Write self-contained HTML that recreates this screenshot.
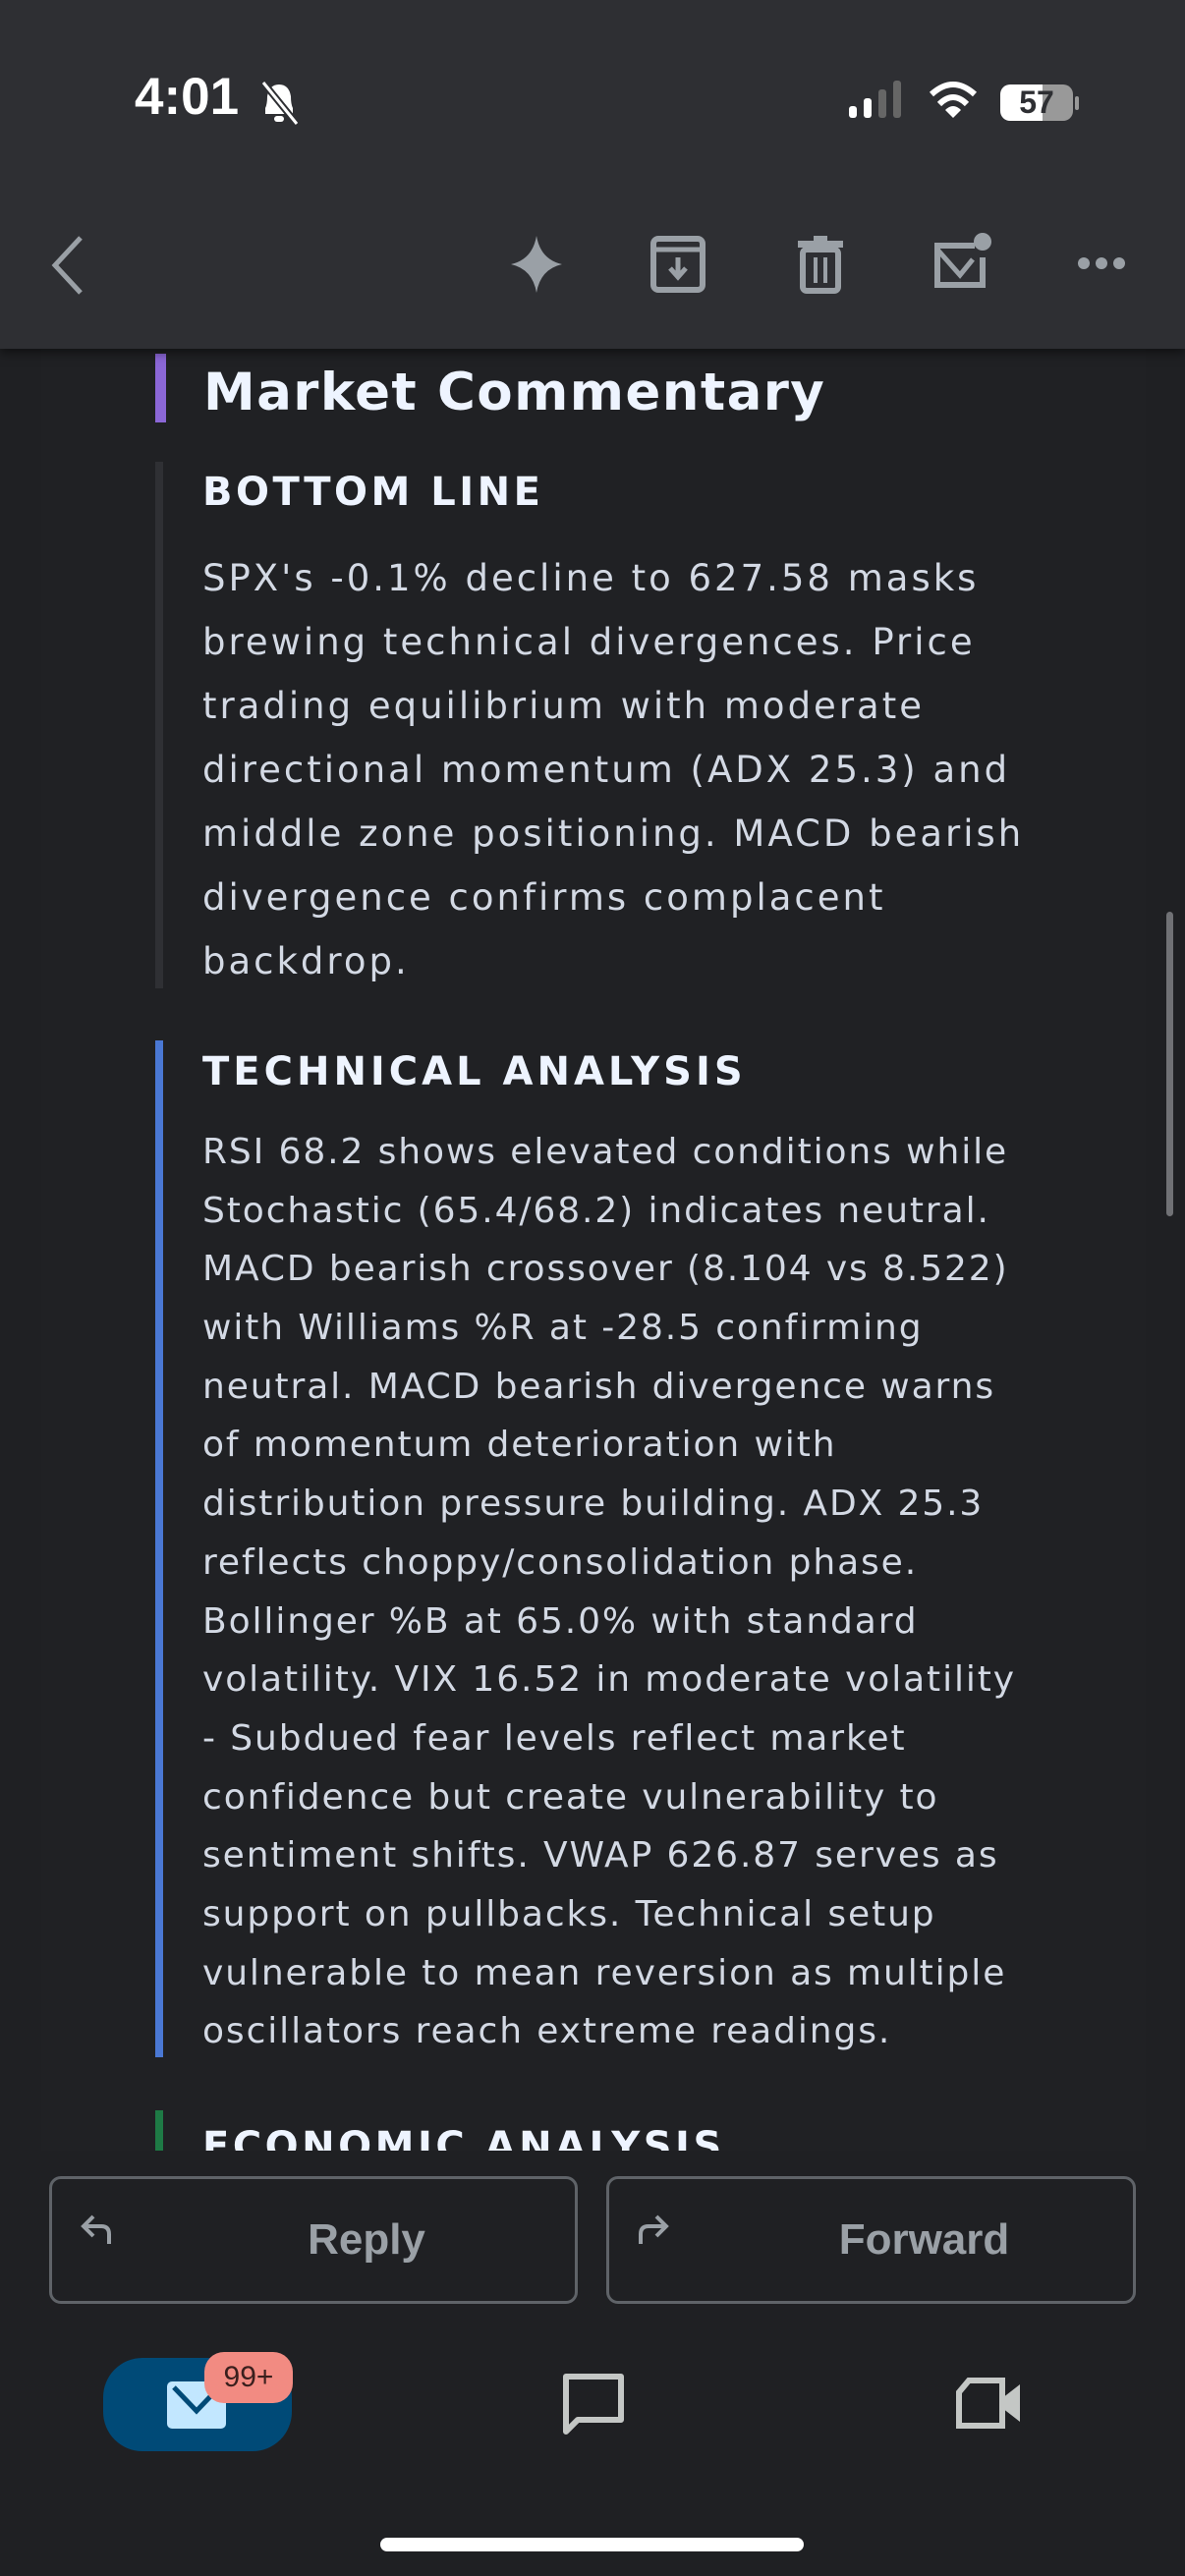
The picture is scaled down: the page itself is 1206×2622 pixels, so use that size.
<!DOCTYPE html>
<html><head><meta charset="utf-8">
<style>
*{margin:0;padding:0;box-sizing:border-box}
body{width:1206px;height:2622px;background:#1f2023;position:relative;overflow:hidden;font-family:"DejaVu Sans","Liberation Sans",sans-serif}
.abs{position:absolute}
.hdr{left:0;top:0;width:1206px;height:355px;background:#2e2f33;box-shadow:0 4px 10px rgba(0,0,0,.5);z-index:2}
.panel{left:42px;top:355px;width:1124px;height:1834px;background:#202124}
.bar{width:8px}
.h{color:#eef4ff;font-weight:bold;white-space:nowrap}
.body{color:#d3d9e4;font-size:37px;white-space:nowrap;left:206px;letter-spacing:3px}
.body div{height:65px;line-height:65px}
.ta div{height:59.7px;line-height:59.7px}
.btn{border:3px solid #5f6368;border-radius:12px;height:130px;top:2215px;color:#9aa0a6;font-size:44px;font-family:"Liberation Sans",sans-serif;font-weight:bold}
.btn span{position:absolute;top:0;line-height:124px}
</style></head><body>
<div class="abs hdr">
  <div class="abs" style="left:137px;top:68px;color:#fff;font:bold 53px 'Liberation Sans',sans-serif">4:01</div>
  <svg class="abs" style="left:262px;top:80px" width="44" height="48"><path d="M8 36 L8 30 Q10 26 10 18 Q12 6 22 6 Q32 6 34 18 Q34 26 36 30 L36 36Z" fill="#fff"/><rect x="17" y="38" width="10" height="6" rx="3" fill="#fff"/><line x1="6" y1="4" x2="40" y2="46" stroke="#2e2f33" stroke-width="7"/><line x1="6" y1="4" x2="40" y2="46" stroke="#fff" stroke-width="3"/></svg>
  <svg class="abs" style="left:862px;top:82px" width="62" height="38"><rect x="2" y="26" width="8" height="12" rx="3" fill="#fff"/><rect x="17" y="18" width="8" height="20" rx="3" fill="#fff"/><rect x="32" y="9" width="8" height="29" rx="3" fill="#666"/><rect x="47" y="0" width="8" height="38" rx="3" fill="#666"/></svg>
  <svg class="abs" style="left:944px;top:82px" width="52" height="40"><path d="M26 38 L18 30 Q26 22 34 30Z" fill="#fff"/><path d="M12 24 Q26 10 40 24" stroke="#fff" stroke-width="6" fill="none"/><path d="M4 14 Q26 -6 48 14" stroke="#fff" stroke-width="6" fill="none"/></svg>
  <div class="abs" style="left:1018px;top:86px;width:74px;height:37px;border-radius:10px;background:linear-gradient(90deg,#fff 58%,#999 58%);color:#2e2f33;font:bold 32px 'Liberation Sans',sans-serif;text-align:center;line-height:37px">57</div>
  <div class="abs" style="left:1094px;top:98px;width:4px;height:14px;background:#999;border-radius:2px"></div>
  <svg class="abs" style="left:48px;top:238px" width="40" height="64"><path d="M34 4 L8 32 L34 60" stroke="#9aa0a6" stroke-width="5" fill="none"/></svg>
  <svg class="abs" style="left:518px;top:238px" width="56" height="62"><path d="M28 2 Q32 26 54 31 Q32 36 28 60 Q24 36 2 31 Q24 26 28 2Z" fill="#9aa0a6"/></svg>
  <svg class="abs" style="left:662px;top:240px" width="56" height="58"><rect x="3" y="3" width="50" height="52" rx="5" stroke="#9aa0a6" stroke-width="6" fill="none"/><line x1="3" y1="14" x2="53" y2="14" stroke="#9aa0a6" stroke-width="5"/><path d="M28 22 V40 M20 33 L28 42 L36 33" stroke="#9aa0a6" stroke-width="5" fill="none"/></svg>
  <svg class="abs" style="left:812px;top:240px" width="46" height="60"><rect x="16" y="0" width="14" height="6" fill="#9aa0a6"/><rect x="0" y="5" width="46" height="7" fill="#9aa0a6"/><rect x="5" y="14" width="36" height="42" rx="4" stroke="#9aa0a6" stroke-width="6" fill="none"/><line x1="18" y1="22" x2="18" y2="48" stroke="#9aa0a6" stroke-width="4"/><line x1="28" y1="22" x2="28" y2="48" stroke="#9aa0a6" stroke-width="4"/></svg>
  <svg class="abs" style="left:948px;top:236px" width="62" height="60"><path d="M44 14 H6 V54 H52 V26" stroke="#9aa0a6" stroke-width="6" fill="none"/><path d="M6 18 L29 44 L42 28" stroke="#9aa0a6" stroke-width="5" fill="none"/><circle cx="52" cy="10" r="9" fill="#9aa0a6"/></svg>
  <svg class="abs" style="left:1096px;top:256px" width="50" height="24"><circle cx="7" cy="12" r="6" fill="#9aa0a6"/><circle cx="25" cy="12" r="6" fill="#9aa0a6"/><circle cx="43" cy="12" r="6" fill="#9aa0a6"/></svg>
</div>

<div class="abs panel"></div>
<div class="abs" style="left:1187px;top:928px;width:7px;height:310px;background:#707175;border-radius:4px"></div>

<div class="abs bar" style="left:158px;top:360px;height:70px;background:#8b67d6;width:11px"></div>
<div class="abs h" style="left:207px;top:368px;font-size:53px;line-height:64px;letter-spacing:1.4px">Market Commentary</div>

<div class="abs bar" style="left:158px;top:470px;height:536px;background:#2f3034"></div>
<div class="abs h" style="left:206px;top:476px;font-size:40px;line-height:50px;letter-spacing:3.5px">BOTTOM LINE</div>
<div class="abs body" style="top:556px">
<div>SPX's -0.1% decline to 627.58 masks</div>
<div>brewing technical divergences. Price</div>
<div>trading equilibrium with moderate</div>
<div>directional momentum (ADX 25.3) and</div>
<div>middle zone positioning. MACD bearish</div>
<div>divergence confirms complacent</div>
<div>backdrop.</div>
</div>

<div class="abs bar" style="left:158px;top:1059px;height:1035px;background:#4a78d4"></div>
<div class="abs h" style="left:206px;top:1066px;font-size:40px;line-height:50px;letter-spacing:4px">TECHNICAL ANALYSIS</div>
<div class="abs body ta" style="top:1143px;font-size:36px;letter-spacing:1.9px">
<div>RSI 68.2 shows elevated conditions while</div>
<div>Stochastic (65.4/68.2) indicates neutral.</div>
<div>MACD bearish crossover (8.104 vs 8.522)</div>
<div>with Williams %R at -28.5 confirming</div>
<div>neutral. MACD bearish divergence warns</div>
<div>of momentum deterioration with</div>
<div>distribution pressure building. ADX 25.3</div>
<div>reflects choppy/consolidation phase.</div>
<div>Bollinger %B at 65.0% with standard</div>
<div>volatility. VIX 16.52 in moderate volatility</div>
<div>- Subdued fear levels reflect market</div>
<div>confidence but create vulnerability to</div>
<div>sentiment shifts. VWAP 626.87 serves as</div>
<div>support on pullbacks. Technical setup</div>
<div>vulnerable to mean reversion as multiple</div>
<div>oscillators reach extreme readings.</div>
</div>

<div class="abs" style="left:0;top:2148px;width:1206px;height:41px;overflow:hidden">
  <div class="abs bar" style="left:158px;top:0;height:41px;background:#1e7a45"></div>
  <div class="abs h" style="left:206px;top:12px;font-size:40px;line-height:50px;letter-spacing:3.5px">ECONOMIC ANALYSIS</div>
</div>

<div class="abs btn" style="left:50px;width:538px">
  <svg class="abs" style="left:28px;top:34px" width="36" height="34"><path d="M14 4 L4 14 L14 24 M4 14 H22 Q30 14 30 22 V32" stroke="#9aa0a6" stroke-width="4" fill="none"/></svg>
  <span style="left:0;width:100%;text-align:center;padding-left:108px">Reply</span>
</div>
<div class="abs btn" style="left:617px;width:539px">
  <svg class="abs" style="left:26px;top:34px" width="36" height="34"><path d="M22 4 L32 14 L22 24 M32 14 H14 Q6 14 6 22 V32" stroke="#9aa0a6" stroke-width="4" fill="none"/></svg>
  <span style="left:0;width:100%;text-align:center;padding-left:108px">Forward</span>
</div>

<div class="abs" style="left:105px;top:2400px;width:192px;height:95px;background:#004a77;border-radius:40px">
  <svg class="abs" style="left:62px;top:22px" width="66" height="52"><rect x="3" y="2" width="60" height="48" rx="5" fill="#c2e7ff"/><path d="M10 8 L33 32 L56 8" stroke="#004a77" stroke-width="5" fill="none"/></svg>
</div>
<div class="abs" style="left:208px;top:2394px;width:90px;height:52px;background:#f28b82;border-radius:20px;color:#3a1f1d;font:30px 'Liberation Sans',sans-serif;text-align:center;line-height:52px">99+</div>
<svg class="abs" style="left:570px;top:2413px" width="68" height="70"><path d="M6 6 H62 V50 H18 L6 62Z" stroke="#c4c7c5" stroke-width="6" fill="none" stroke-linejoin="round"/></svg>
<svg class="abs" style="left:972px;top:2419px" width="70" height="56"><path d="M14 4 H48 V50 H4 V16Z" stroke="#c4c7c5" stroke-width="6" fill="none"/><path d="M48 22 L66 8 V46 L48 32Z" fill="#c4c7c5"/></svg>
<div class="abs" style="left:387px;top:2583px;width:431px;height:14px;background:#fff;border-radius:7px"></div>
</body></html>
